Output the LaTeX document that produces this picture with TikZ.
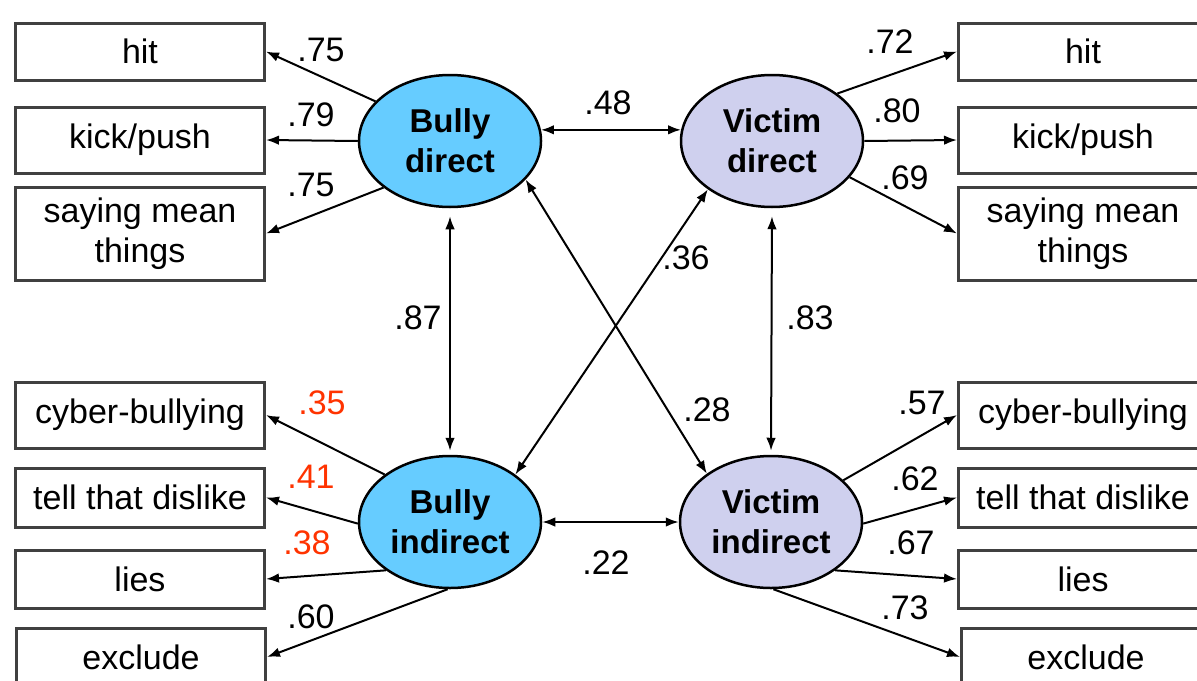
\documentclass[tikz,border=0pt]{standalone}
\usepackage{fontspec}
\setmainfont{Liberation Sans}
\usepackage{tikz}
\usetikzlibrary{arrows.meta}
\usetikzlibrary{shapes.geometric}
\definecolor{bullyblue}{HTML}{66CCFF}
\definecolor{victimlav}{HTML}{CFD0EE}
\definecolor{loadred}{HTML}{FF3300}
\definecolor{boxgray}{HTML}{404040}
\tikzstyle{latent} = [ellipse, draw=black, line width=1.25pt, minimum width=91pt, minimum height=66pt, inner sep=0pt, align=center, font=\fontsize{16.5pt}{20pt}\selectfont\bfseries]
\tikzstyle{item} = [rectangle, draw=boxgray, line width=1.5pt, minimum width=124.5pt, inner sep=2pt, align=center, fill=white]
\tikzstyle{arrow} = [->, line width=1pt]
\tikzstyle{corr} = [<->, line width=1pt]
\tikzstyle{coef} = [inner sep=0pt]

\begin{document}
\begin{tikzpicture}[x=0.5pt, y=-0.5pt, >={Latex[length=6.5pt,width=4.8pt]}, font=\fontsize{17pt}{20pt}\selectfont]

  \useasboundingbox (0,0) rectangle (1197,680);

  % latent factors
  \node[latent, fill=bullyblue] (bd) at (450,141) {Bully\\direct};
  \node[latent, fill=victimlav] (vd) at (772,141) {Victim\\direct};
  \node[latent, fill=bullyblue] (bi) at (450,522) {Bully\\indirect};
  \node[latent, fill=victimlav] (vi) at (771,522) {Victim\\indirect};

  % items, left
  \node[item, minimum height=28.5pt] (lhit)   at (140,51.5)  {hit};
  \node[item, minimum height=33pt]   (lkick)  at (140,140)   {kick/push};
  \node[item, minimum height=46.5pt] (lmean)  at (140,233.5) {saying mean\\things};
  \node[item, minimum height=33pt]   (lcyber) at (140,415)   {cyber-bullying};
  \node[item, minimum height=29.5pt] (ltell)  at (140,497.5) {tell that dislike};
  \node[item, minimum height=29pt]   (llies)  at (140,579)   {lies};
  \node[item, minimum height=29pt]   (lexcl)  at (141,657)   {exclude};

  % items, right
  \node[item, minimum height=28.5pt] (rhit)   at (1083,51.5)  {hit};
  \node[item, minimum height=33pt]   (rkick)  at (1083,140)   {kick/push};
  \node[item, minimum height=46.5pt] (rmean)  at (1083,233.5) {saying mean\\things};
  \node[item, minimum height=33pt]   (rcyber) at (1083,415)   {cyber-bullying};
  \node[item, minimum height=29.5pt] (rtell)  at (1083,497.5) {tell that dislike};
  \node[item, minimum height=29pt]   (rlies)  at (1083,579)   {lies};
  \node[item, minimum height=29pt]   (rexcl)  at (1086,657)   {exclude};

  % loadings
  \foreach \a/\b in {bd.152/lhit.east, bd.west/lkick.east, bd.215/lmean.east,
    vd.36/rhit.west, vd.east/rkick.west, vd.-25/rmean.west,
    bi.144/lcyber.east, bi.181/ltell.east, bi.217/llies.east, bi.268/lexcl.east,
    vi.30/rcyber.west, vi.-1/rtell.west, vi.-37/rlies.west, vi.272/rexcl.west} {
    \draw[arrow] (\a) -- (\b);
  }

  % correlations
  \draw[corr] (bd.7) -- (vd.173);
  \draw[corr] (bi.east) -- (vi.west);
  \draw[corr, shorten <=4pt, shorten >=2pt] (bd.south) -- (bi.north);
  \draw[corr, shorten <=4pt, shorten >=2pt] (vd.south) -- (vi.north);
  \draw[corr] (bd.-27) -- (vi.143);
  \draw[corr] (vd.217) -- (bi.36);

  % coefficients
  \node[coef] (c1) at (321,50) {.75};
  \node[coef] (c2) at (311,115) {.79};
  \node[coef] (c3) at (311,185) {.75};
  \node[coef] (c4) at (890,42) {.72};
  \node[coef] (c5) at (897,111) {.80};
  \node[coef] (c6) at (905,178) {.69};
  \node[coef, text=loadred] (c7) at (322,403) {.35};
  \node[coef, text=loadred] (c8) at (311,477) {.41};
  \node[coef, text=loadred] (c9) at (307,543) {.38};
  \node[coef] (c10) at (311,617) {.60};
  \node[coef] (c11) at (922,403) {.57};
  \node[coef] (c12) at (915,479) {.62};
  \node[coef] (c13) at (911,543) {.67};
  \node[coef] (c14) at (905,608) {.73};
  \node[coef] (c15) at (608,103) {.48};
  \node[coef] (c16) at (418,318) {.87};
  \node[coef] (c17) at (810,318) {.83};
  \node[coef] (c18) at (686,258) {.36};
  \node[coef] (c19) at (707,410) {.28};
  \node[coef] (c20) at (606,563) {.22};

\end{tikzpicture}
\end{document}
